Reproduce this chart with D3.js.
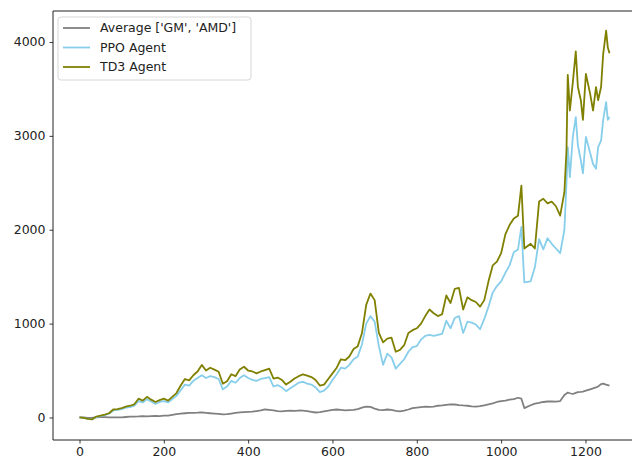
<!DOCTYPE html>
<html>
<head>
<meta charset="utf-8">
<script src="https://cdn.jsdelivr.net/npm/d3@7"></script>
<style>
  html, body { margin: 0; padding: 0; background: #fff; overflow: hidden; }
  svg { display: block; font-family: "DejaVu Sans", sans-serif; }
</style>
</head>
<body>
<div id="chart"></div>
<script>
// trading day index (about every 10 days, denser at the end where it jumps around)
const days = [
  0, 10, 20, 30, 40, 50, 60, 70, 80, 90, 100, 110, 120, 130, 140, 150, 160, 170, 180, 190,
  200, 210, 220, 230, 240, 250, 260, 270, 280, 290, 300, 310, 320, 330, 340, 350, 360, 370, 380, 390,
  400, 410, 420, 430, 440, 450, 460, 470, 480, 490, 500, 510, 520, 530, 540, 550, 560, 570, 580, 590,
  600, 610, 620, 630, 640, 650, 660, 670, 680, 690, 700, 710, 720, 730, 740, 750, 760, 770, 780, 790,
  800, 810, 820, 830, 840, 850, 860, 870, 880, 890, 900, 910, 920, 930, 940, 950, 960, 970, 980, 990,
  1000, 1010, 1020, 1030, 1040, 1048, 1055, 1070, 1080, 1090, 1100, 1110, 1120, 1130, 1140,
  1150, 1155, 1158, 1163, 1170, 1177, 1182, 1189, 1194, 1201, 1211, 1218, 1225, 1230, 1237, 1242, 1249, 1253, 1257
];

const avgValues = [
  0, 0, -5, -3, 0, 5, 3, 0, 2, 0, 0, 5, 8, 10, 12, 15, 12, 15, 18, 15,
  20, 20, 28, 35, 40, 45, 48, 50, 52, 55, 50, 45, 42, 38, 32, 35, 42, 50, 55, 58,
  60, 62, 68, 75, 85, 80, 75, 68, 64, 70, 72, 70, 74, 72, 68, 60, 53, 58, 65, 72,
  80, 85, 80, 75, 78, 80, 90, 105, 116, 112, 95, 80, 78, 85, 80, 70, 65, 72, 85, 100,
  105, 110, 115, 112, 116, 125, 128, 135, 140, 138, 132, 128, 125, 118, 116, 120, 130, 140, 150, 165,
  175, 180, 190, 195, 210, 200, 100, 130, 148, 155, 165, 170, 172, 168, 175,
  240, 255, 265, 258, 250, 262, 270, 272, 275, 285, 300, 310, 320, 330, 355, 360, 350, 345, 340
];

const ppoValues = [
  0, -5, -15, -20, 5, 15, 25, 40, 75, 80, 90, 105, 110, 125, 175, 160, 195, 170, 145, 165,
  175, 160, 195, 230, 290, 350, 340, 390, 420, 450, 420, 440, 430, 410, 300, 330, 390, 370, 420, 450,
  420, 400, 390, 410, 420, 430, 330, 345, 320, 280, 310, 340, 370, 380, 360, 350, 320, 270, 285, 330,
  400, 460, 530, 520, 560, 620, 650, 780, 1000, 1080, 1020, 760, 560, 680, 640, 520, 570, 620, 700, 750,
  760, 830, 870, 880, 870, 880, 890, 1030, 950, 1060, 1080, 900, 1020, 1010, 990, 940, 1050, 1180, 1330, 1400,
  1450, 1540, 1620, 1760, 1790, 2030, 1440, 1450, 1600, 1900, 1790, 1910, 1850, 1800, 1750,
  2000, 2500, 2880, 2560, 2990, 3200, 2900, 2740, 2600, 2990, 2820, 2700, 2650, 2880, 2950, 3170, 3360, 3170, 3200
];

const td3Values = [
  0, -5, -15, -20, 10, 20, 30, 45, 85, 90, 100, 115, 125, 140, 200, 180, 220, 190, 165, 185,
  200, 180, 220, 260, 340, 410, 395, 450, 490, 560, 500, 530, 510, 487, 360, 385, 460, 440, 510, 540,
  500, 490, 470, 490, 505, 520, 415, 425, 400, 350, 380, 415, 440, 460, 445, 430, 400, 340, 350, 410,
  470, 530, 620, 610, 650, 730, 760, 900, 1200, 1320, 1250, 900, 800, 840, 850, 700, 720, 770, 900, 930,
  950, 1000, 1080, 1150, 1110, 1080, 1100, 1300, 1220, 1370, 1380, 1150, 1280, 1250, 1230, 1180, 1250, 1450, 1620, 1660,
  1750, 1950, 2050, 2120, 2150, 2470, 1800, 1850, 1800, 2300, 2330, 2280, 2300, 2250, 2150,
  2400, 2850, 3650, 3270, 3570, 3900, 3520, 3380, 3170, 3660, 3450, 3270, 3520, 3380, 3520, 3870, 4120, 3940, 3880
];

const seriesNames = ["Average ['GM', 'AMD']", "PPO Agent", "TD3 Agent"];
const seriesColors = ["grey", "skyblue", "olive"];
const seriesValues = [avgValues, ppoValues, td3Values];

const xTicks = [0, 200, 400, 600, 800, 1000, 1200];
const yTicks = [0, 1000, 2000, 3000, 4000];

const width = 632, height = 460;
const margin = { top: 11, right: -4, bottom: 20, left: 53 };

const svg = d3.select("#chart").append("svg")
  .attr("width", width)
  .attr("height", height);

const x = d3.scaleLinear()
  .domain([-62.85, 1319.85])
  .range([margin.left, width - margin.right]);

const y = d3.scaleLinear()
  .domain([-240, 4330])
  .range([height - margin.bottom, margin.top]);

const plotH = height - margin.bottom;

// lines
const line = d3.line()
  .x((d, i) => x(days[i]))
  .y(d => y(d));

seriesValues.forEach((vals, k) => {
  svg.append("path")
    .datum(vals)
    .attr("fill", "none")
    .attr("stroke", seriesColors[k])
    .attr("stroke-width", 1.8)
    .attr("stroke-linejoin", "round")
    .attr("d", line);
});

// axes
const fmt = d3.format("d");
const xAxis = d3.axisBottom(x).tickValues(xTicks).tickFormat(fmt).tickSize(3.5).tickPadding(4);
const yAxis = d3.axisLeft(y).tickValues(yTicks).tickFormat(fmt).tickSize(3.5).tickPadding(4);

const gx = svg.append("g")
  .attr("transform", `translate(0,${plotH})`)
  .call(xAxis);
const gy = svg.append("g")
  .attr("transform", `translate(${margin.left},0)`)
  .call(yAxis);

[gx, gy].forEach(g => {
  g.select(".domain").remove();
  g.selectAll(".tick line").attr("stroke", "#222").attr("stroke-width", 0.9);
  g.selectAll(".tick text")
    .attr("fill", "#222")
    .style("font-size", "12.5px")
    .style("font-family", "DejaVu Sans, sans-serif");
});

// frame (right side falls outside the picture, like the original)
svg.append("path")
  .attr("d", `M${width},${margin.top}H${margin.left}V${plotH}H${width}`)
  .attr("fill", "none")
  .attr("stroke", "#222")
  .attr("stroke-width", 1);

// legend
const legend = svg.append("g").attr("transform", "translate(58,17)");
legend.append("rect")
  .attr("width", 193)
  .attr("height", 63)
  .attr("rx", 3)
  .attr("fill", "white")
  .attr("fill-opacity", 0.8)
  .attr("stroke", "#d6d6d6")
  .attr("stroke-width", 1);

seriesNames.forEach((name, k) => {
  const row = legend.append("g").attr("transform", `translate(0,${11 + k * 19.5})`);
  row.append("line")
    .attr("x1", 5).attr("x2", 32)
    .attr("y1", 0).attr("y2", 0)
    .attr("stroke", seriesColors[k])
    .attr("stroke-width", 1.8);
  row.append("text")
    .attr("x", 42)
    .attr("y", 0)
    .attr("dy", "0.35em")
    .attr("fill", "#222")
    .style("font-size", "12.5px")
    .text(name);
});
</script>
</body>
</html>
